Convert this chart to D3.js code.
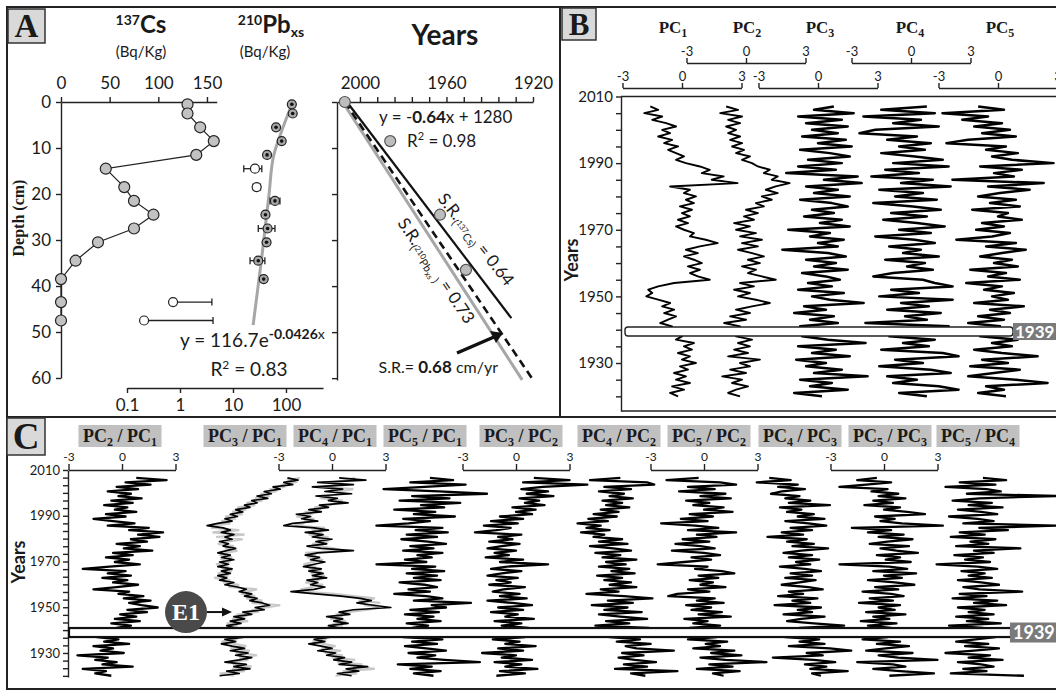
<!DOCTYPE html>
<html>
<head>
<meta charset="utf-8">
<script src="https://cdn.jsdelivr.net/npm/d3@7"></script>
<style>
  body { margin: 0; background: #fff; }
  svg { display: block; }
  text { font-family: Lato, "Open Sans", sans-serif; fill: #1a1a1a; }
  .serif { font-family: "Liberation Serif", "DejaVu Serif", serif; font-weight: bold; }
</style>
</head>
<body>
<svg id="fig" width="1056" height="691"></svg>
<script>
// ---------------------------------------------------------------------------
// Panel A data
// ---------------------------------------------------------------------------
const csDepth = [0.5, 2.5, 5.5, 8.5, 11.5, 14.5, 18.5, 21.5, 24.5, 27.5, 30.5, 34.5, 38.5, 43.5, 47.5];
const csActivity = [130, 130, 143, 157, 139, 46, 65, 75, 95, 75, 38, 15, 0, 0, 0];

const pbDepth = [0.5, 2.5, 5.5, 8.5, 11.5, 14.5, 18.5, 21.5, 24.5, 27.5, 30.5, 34.5, 38.5, 43.5, 47.5];
const pbActivity = [129, 134, 65, 83, 44, 26, 28, 62, 41, 45, 43, 30, 38, 0.74, 0.21];
const pbErrLow  = [118, 122, 59, 75, 40, 16, 24, 50, 37, 30, 39, 21, 35, 0.74, 0.21];
const pbErrHigh = [142, 147, 71, 91, 49, 35, 33, 77, 46, 62, 48, 40, 42, 4.0, 4.2];
const pbExcluded = [0, 0, 0, 0, 0, 1, 1, 0, 0, 0, 0, 0, 0, 1, 1];
const pbFitDepth = [0.5, 5.5, 11.5, 20, 33.7, 48.5];
const pbFitActivity = [130, 88, 59, 48, 35, 24];

const ageDepth = [0, 8.5, 24.5, 36.5];
const ageYear = [2007, 1986, 1963, 1951];

// sedimentation rate lines: [depth, year]
const srCs = [[0, 2006], [47, 1930]];
const srMean = [[0, 2007], [60.4, 1920]];
const srPb = [[0, 2008], [60.4, 1925]];

// ---------------------------------------------------------------------------
// Panel B / C data: one value per year, 2007 down to 1920
// ---------------------------------------------------------------------------
const years = d3.range(2007, 1919, -1);

const pc1 = [-1.6, -1.2, -1.9, -1.0, -1.5, -0.8, -0.3, -1.0,
  -0.6, -1.2, -0.5, -0.9, -0.2, -0.7, -0.3, 0.1, -0.3, 0.2,
  0.9, 1.4, 1.0, 2.1, 1.5, 2.8, -0.6, 0.4, 0.1, 0.7,
  0.2, 0.6, -0.1, 0.5, 0.0, 0.4, -0.2, 0.3, -0.3, 0.1,
  0.6, 0.4, 1.2, 1.8, 0.9, 0.2, 0.8, 0.1, 0.6, 1.0,
  0.3, 0.9, 0.4, 0.8, 1.4, -0.4, -1.2, -1.7, -1.5, -1.8,
  -1.2, -0.6, -1.0, -0.4, -0.9, -0.3, -0.7, -1.1, -0.5, -0.8,
  -0.4, 0.0, -0.3, 0.6, 0.1, 0.5, -0.2, 0.4, 0.0, 0.7,
  -0.1, 0.3, -0.4, 0.2, -0.3, 0.4, -0.5, 0.1, -0.6, -0.2];
const pc2 = [-1.0, -0.4, -1.3, -0.2, -0.9, -0.3, -1.0, -0.5,
  -0.9, -0.3, -0.8, -0.2, -0.7, -0.1, -0.5, 0.2, -0.2, 0.3,
  0.6, 1.2, 0.9, 1.6, 1.3, 2.2, 1.5, 1.0, 1.6, 0.8,
  1.3, 0.5, 0.9, 0.0, 0.6, -0.1, 0.4, -0.6, 0.2, -0.5,
  0.5, -0.3, 0.8, -0.2, 0.6, -0.4, 0.3, 0.9, 0.1, 0.7,
  -0.2, 0.5, 0.1, 0.8, 1.5, -0.3, 0.4, -0.6, 0.2, -0.4,
  0.5, 1.2, 0.3, -0.5, 0.2, -0.8, 0.0, -1.1, -0.3, -0.7,
  0.0, -0.5, 0.3, -0.4, 0.2, -0.6, 0.1, -0.9, 0.7, -0.3,
  0.2, -0.8, 0.0, -1.2, -0.2, -0.7, 0.1, -0.5, -0.9, -0.3];
const pc3 = [0.8, -0.2, 1.8, -1.0, 1.2, -0.6, 1.5, -0.3,
  1.0, -0.8, 1.4, 0.0, 1.7, -0.9, 0.6, 1.6, -0.5, 1.2,
  -1.0, 0.9, -1.6, 2.0, 0.3, 2.2, -0.6, 1.0, -0.2, 1.6,
  -0.9, 0.7, 1.5, -0.3, 0.8, -0.7, 1.2, 0.1, 1.6, -1.5,
  0.6, -0.4, 1.3, 0.0, 1.0, -1.8, 0.5, 1.4, -0.6, 0.9,
  -0.2, 1.5, -0.8, 0.4, 1.1, -0.5, 0.7, -1.0, 1.3, -0.3,
  0.6, 2.3, -0.7, 0.4, -1.2, 0.8, -0.4, 1.0, -0.9, 0.3,
  1.2, -0.8, 0.5, 2.4, -1.0, 0.9, -0.3, 1.6, -1.1, 0.4,
  -0.6, 1.2, -0.2, 2.5, -0.9, 0.7, -0.4, 1.5, -1.2, 0.2];
const pc4 = [0.8, -1.5, 1.2, -2.4, 0.5, -0.9, 1.4, -1.8,
  -2.6, 0.3, -1.2, 1.0, -0.6, 0.7, -1.5, 0.2, 1.6, -0.9,
  1.9, -1.3, 0.4, -2.0, 1.1, -0.5, 2.0, -1.6, 0.6, -0.8,
  1.3, -1.9, 0.1, 1.5, -1.0, 0.8, -1.4, 0.3, 1.7, -0.6,
  1.0, -1.8, 0.2, 1.2, -1.1, 0.5, -0.4, 1.4, -1.3, 0.7,
  -0.2, 1.1, -0.9, -1.9, 0.6, 1.2, 2.1, -1.0, 0.4, -1.6,
  2.1, -0.5, 0.9, -1.2, 1.5, -0.3, 0.8, -2.3, 1.9, -0.7,
  0.5, -1.1, 1.2, -0.4, 0.9, -1.5, 1.6, 2.4, -0.8, 0.6,
  -1.6, 1.0, 2.0, -1.2, 0.3, -0.9, 1.4, 2.4, -0.6, 0.8];
const pc5 = [-1.0, 0.3, -2.8, -0.5, -1.8, 0.2, -1.2, 0.6,
  -0.8, 0.9, -1.5, -2.6, 0.4, -0.6, 1.0, -0.3, 0.7, 2.8,
  -0.9, 1.2, -0.2, 0.8, -2.3, 2.3, -0.5, 1.6, 0.1, -1.0,
  0.9, -0.4, 1.1, -1.3, 0.5, 0.0, 1.2, -0.8, 0.3, -1.1,
  0.6, -0.3, -2.1, 0.9, -0.6, 1.4, 0.2, -0.9, 0.7, -0.2,
  1.0, -1.4, 0.4, -0.5, 1.1, -1.6, 0.2, -0.7, 0.8, -0.3,
  0.5, -1.2, 1.3, -0.4, 0.6, -1.0, 0.3, -1.5, 0.1, -0.6,
  0.4, -0.9, 1.0, -0.3, 0.7, -1.2, 0.2, 2.0, -0.8, 0.5,
  -1.4, 1.1, -0.2, -1.5, 0.9, 2.5, -0.6, 0.3, -1.0, 0.4];

// ratios, panel C
const pc2pc1 = [0.8, 2.5, 0.2, 1.6, -0.3, 0.9, -0.8, 0.5,
  -0.2, 1.1, -0.6, 0.6, -1.0, 0.3, -0.4, 0.8, -0.9, 0.2,
  -1.6, -0.5, 0.7, -0.8, 1.5, 0.4, 2.3, 0.9, 2.1, 0.5,
  1.4, -0.3, 1.0, 0.1, 1.7, -0.5, 0.6, -0.9, 0.4, -0.4,
  1.0, -0.7, -2.2, 0.2, -0.8, 0.5, -1.1, 0.3, -0.5, 0.9,
  -0.3, -1.6, 0.4, -0.2, 1.2, 0.1, 1.6, 0.4, 1.1, 2.0,
  0.3, 1.4, -0.1, 0.8, -0.4, 1.0, -0.6, 0.5, -0.3, 0.7,
  -0.5, 0.2, -1.4, -0.2, -1.0, 0.4, -1.6, -0.5, -1.2, 0.1,
  -2.5, -0.8, -1.5, -0.3, -1.1, 0.6, -2.2, -0.9, -1.5, -0.6];
const pc3pc1 = [2.6, 3.2, 2.4, 2.9, 1.8, 2.2, 1.3, 1.7,
  0.9, 1.5, 0.6, 0.9, 0.2, 0.5, -0.3, 0.1, -0.6, -0.2,
  -0.9, -0.5, -1.3, -1.9, -1.0, -0.6, -1.1, -0.4, -0.9, -0.5,
  -1.2, -0.7, -1.0, -0.3, -0.8, -1.3, -0.6, -1.1, -0.4, -1.2,
  -0.7, -1.3, -0.5, -1.1, -0.6, -1.3, -0.8, -1.2, -0.4, -0.9,
  -0.2, 0.3, -0.1, 0.6, 0.2, 0.9, 0.5, 1.2, 1.6, 0.8,
  1.3, 0.1, 0.6, -0.4, 0.2, -0.6, 0.0, -0.8, -0.3, -0.7,
  0.1, -0.5, 0.2, -0.9, -0.3, -1.1, -0.5, 0.2, -0.6, 0.4,
  -0.3, 0.6, -0.1, -0.9, 0.3, -0.4, 0.5, -0.8, -0.1, -1.2];
const pc3pc1Raw = [3.3, 2.7, 3.0, 2.3, 2.4, 1.7, 1.9, 1.1,
  1.6, 0.8, 1.2, 0.3, 0.8, -0.2, 0.3, -0.5, 0.1, -0.9,
  -0.3, -1.1, -0.6, -1.5, -1.6, -0.1, -1.6, 0.2, -1.4, 0.1,
  -0.7, -1.3, -0.4, -0.9, -0.2, -0.8, -1.1, -0.5, -1.0, -0.6,
  -1.4, -0.8, -1.0, -0.5, -1.3, -0.7, -1.5, -0.6, -1.0, -0.1,
  -0.7, 0.9, 0.3, 0.1, 0.8, 0.3, 1.2, 0.6, 2.2, 1.4,
  0.7, 0.9, -0.1, 0.2, -0.5, 0.4, -0.8, -0.2, -0.9, 0.3,
  -0.5, 0.2, -0.6, -0.2, -1.1, -0.4, 0.3, -0.6, 0.5, -0.3,
  0.9, -0.1, 0.4, -0.5, -0.4, 0.6, -0.5, 0.2, -1.2, -0.4];
const pc4pc1 = [0.4, 1.9, -0.8, 1.2, -1.1, 0.6, -0.4, 1.1,
  -0.9, 0.3, -0.2, 0.9, -0.7, -0.2, -1.3, -0.6, -2.0, -1.2,
  -1.7, -0.8, -2.2, -2.7, -1.0, -0.2, -1.5, -0.5, -1.1, 0.0,
  -0.9, -0.3, -1.4, -0.6, 1.2, -0.8, -1.5, -0.7, -1.2, -0.4,
  -1.0, -1.6, -0.6, -1.3, -0.5, -1.1, -0.3, -1.4, -0.8, -1.2,
  -0.4, -1.0, -2.3, -0.9, 0.5, 1.6, 2.2, 1.4, 2.3, 3.3,
  1.2, 0.4, 1.0, -0.3, 0.6, 0.1, 0.9, -0.2, 0.4, -0.1,
  0.3, -0.6, -0.1, -1.0, -0.4, -1.3, -0.6, 0.0, -0.8, 0.2,
  -0.3, 0.7, 0.1, 1.1, 0.4, 2.0, 0.8, 1.5, 0.3, 1.1];
const pc4pc1Raw = [1.3, 0.8, 0.0, 0.4, -0.5, 1.2, 0.3, 0.4,
  -0.2, -0.5, 0.6, 0.2, -0.1, -1.0, -0.6, -1.4, -1.2, -2.0,
  -1.0, -1.5, -1.6, -2.1, -0.4, -1.0, -0.7, -1.3, -0.2, -0.8,
  -0.2, -1.1, -0.7, 0.1, 0.6, -1.5, -0.9, -1.4, -0.5, -1.1,
  -1.6, -0.9, -1.3, -0.6, -1.2, -0.4, -1.0, -0.8, -1.5, -0.5,
  -1.1, -1.7, -1.6, 0.1, 1.2, 2.4, 1.5, 2.7, 1.8, 2.6,
  2.0, 0.9, 0.3, 0.5, -0.1, 0.8, 0.2, 0.6, -0.4, 0.5,
  -0.3, 0.1, -0.8, -0.3, -1.1, -0.5, 0.2, -0.6, 0.5, -0.4,
  0.6, 0.0, 1.3, 0.3, 1.7, 1.2, 2.4, 0.6, 1.4, 0.2];
const pc5pc1 = [0.5, 1.8, -0.6, 2.5, 0.2, -2.1, 1.0, 3.7,
  -0.5, 1.6, -1.2, 2.2, 0.0, 1.3, -1.5, 0.8, -0.4, 1.9,
  -1.0, 0.5, -0.7, -2.5, 1.2, -0.3, 1.5, -0.8, 0.9, -1.1,
  0.4, 1.4, -0.6, 0.7, -1.0, 1.2, -0.2, 0.6, -0.9, 0.3,
  -2.5, 0.8, -0.5, 1.3, -0.8, 0.9, -0.4, 1.1, -1.2, 0.2,
  0.9, -0.7, 0.5, -1.5, 0.3, 1.2, -0.4, 2.8, 0.6, 1.4,
  -0.6, 1.0, -0.9, 0.7, -0.2, 1.1, -0.8, 0.4, -0.5, 0.8,
  -0.3, 0.6, -1.0, 1.2, -0.5, 0.9, -0.9, 0.3, 1.4, -0.7,
  0.8, -0.2, 1.3, 3.3, -1.3, 0.6, -0.6, 1.1, -0.4, 0.7];
const pc3pc2 = [1.0, 3.0, 0.4, 4.0, 1.5, 0.3, 1.8, 0.6,
  2.1, 0.2, 1.3, 0.5, 1.6, -0.2, 1.1, 0.0, 0.9, -0.9,
  0.4, -1.4, 0.1, -1.8, -0.3, -1.1, -2.3, 0.3, -1.0, -0.2,
  -1.5, 0.2, -0.8, -1.6, 0.0, -1.2, -0.4, -1.7, 0.4, -0.9,
  1.8, -0.5, -1.4, 0.3, -0.8, -1.6, 0.1, -1.1, -0.3, -1.5,
  0.5, -0.7, -1.3, 0.2, -0.9, 0.6, -1.6, -0.2, 0.9, -1.0,
  0.4, -1.4, 0.1, -0.6, 1.0, -1.2, 0.3, -0.8, 0.7, -0.5,
  0.4, -0.9, 0.5, -1.3, 0.2, -0.6, 1.1, -1.0, 0.4, -1.9,
  0.0, -0.8, 0.9, -1.2, 0.3, -0.6, 1.2, -0.9, 0.5, -1.1];
const pc4pc2 = [0.3, -1.4, 1.8, 2.2, -0.6, 0.9, -0.9, 0.5,
  -0.3, 1.0, -0.7, 0.4, -0.5, 0.8, -0.8, 0.2, -1.2, 0.1,
  -1.5, -0.4, -2.1, -0.8, -1.6, -0.3, -1.9, -0.6, -1.2, 0.4,
  -0.9, 0.7, -1.4, -0.1, 0.9, -1.1, 0.3, -0.7, 1.2, -0.5,
  0.6, -0.9, 0.8, -0.2, 1.1, -1.0, 0.4, -0.6, 0.9, -0.3,
  1.2, -0.8, 0.2, -1.6, 0.5, 2.1, -0.4, 1.0, -1.3, 0.7,
  -0.6, 1.5, -0.9, 0.3, 1.8, -0.5, 0.8, -1.1, 1.9, 0.2,
  -0.4, 0.9, -0.3, 1.4, 0.1, 2.0, 0.6, 1.2, 3.3, 0.4,
  1.6, 0.2, 1.1, 2.3, 0.5, 1.8, 0.0, 3.5, 0.9, 1.7];
const pc5pc2 = [-0.3, -2.1, 0.9, 1.8, -0.9, 0.6, -1.4, 1.2,
  -0.2, 1.5, -1.0, 0.3, -0.6, 1.1, 0.0, 1.6, -0.8, 0.5,
  -1.3, 0.2, -2.4, -0.5, 0.8, -0.9, 1.8, -0.4, 0.7, -1.2,
  0.3, -1.6, -0.2, 0.6, -1.8, 0.0, 0.9, -0.7, 0.4, -1.1,
  -2.6, 0.2, -0.5, 1.0, 1.7, -0.3, 0.8, -0.8, 0.5, -0.2,
  1.2, -0.9, 0.3, -1.5, -2.0, 0.6, -0.4, 1.1, -1.0, 0.4,
  -0.7, 1.0, -0.3, 1.5, -1.1, 0.2, -0.6, 0.9, -0.8, 0.3,
  1.1, -0.4, 0.7, -0.9, 1.3, 0.1, 0.9, -0.6, 1.7, 0.4,
  2.1, -0.2, 1.2, 3.5, 0.3, 1.6, -0.4, 2.0, 0.5, 1.1];
const pc4pc3 = [-1.5, -0.3, -2.2, 0.1, -1.0, 0.5, -0.8, -1.4,
  0.2, -0.6, 0.8, -0.4, 1.9, -0.9, 0.3, -0.5, 1.0, 0.1,
  1.6, -0.6, 0.7, 1.7, -0.3, 0.9, -0.8, 0.4, -1.6, 0.6,
  -0.5, 1.0, -0.2, 1.8, 0.3, -0.7, 0.9, -0.4, 1.3, 0.0,
  0.8, -0.9, 0.5, 1.4, -0.3, 0.9, -0.6, 1.1, 0.2, -0.8,
  0.7, 1.5, -0.4, 0.4, -1.0, 1.2, -0.2, 0.8, -1.2, 1.4,
  0.1, 0.9, -0.7, 1.6, 0.3, -0.5, 1.0, 2.7, 0.2, 1.1,
  -0.3, 0.8, -0.6, 1.3, 0.2, 1.6, -0.4, 1.9, 3.1, 0.6,
  1.5, -1.3, 1.0, 2.2, 0.5, 1.7, 0.8, 2.9, 0.9, 1.4];
const pc5pc3 = [-0.4, -1.5, 0.4, -1.0, -2.5, 0.2, -0.7, 0.8,
  -0.3, 1.2, -0.6, 0.5, -1.1, 0.9, 0.0, 1.3, 2.3, -0.5,
  0.6, -0.2, 1.0, 3.3, -1.8, 0.4, -0.9, 1.1, -0.3, 1.6,
  0.2, -0.8, 1.4, -0.2, 0.7, 1.9, -0.4, 0.9, 0.1, 1.5,
  -2.5, 0.3, 1.3, -0.6, 1.8, 0.0, 1.0, -0.9, 0.6, 1.7,
  -0.5, 0.8, -1.2, 0.4, 1.1, -0.8, 0.5, -1.4, 0.9, -0.3,
  0.6, -1.0, 1.2, -0.6, 0.3, -1.3, 0.7, -0.9, 0.4, -0.5,
  1.0, -0.7, 0.2, -1.2, 0.9, -0.4, 1.4, 0.1, -1.0, 1.6,
  -0.3, 0.8, 3.0, -1.5, 0.5, 1.2, -0.6, 0.9, 2.8, 0.3];
const pc5pc4 = [0.5, 1.8, -0.8, 1.2, -1.6, 0.7, 1.5, -0.4,
  4.6, 0.3, -1.2, 1.0, -0.3, 1.6, -0.9, 0.4, 1.3, -1.4,
  0.2, 1.1, -0.6, 4.6, 0.3, 1.9, -0.8, 0.6, -1.3, 1.2,
  -0.2, 0.8, -1.0, 2.6, 0.0, 1.1, -1.1, 0.5, -0.5, 0.9,
  -2.1, 0.2, 1.3, -0.7, 0.6, -0.3, 1.0, -0.9, 0.4, 1.4,
  -0.6, 0.3, 2.7, -0.8, 0.7, -1.2, 1.3, 0.0, 1.8, -0.9,
  0.6, -0.3, 1.1, -1.0, 0.8, -0.4, 1.5, -1.4, 0.5, -0.2,
  0.9, -0.7, 1.2, 0.1, -1.0, 0.8, -0.5, 1.4, 0.0, -1.6,
  0.9, -0.3, 1.6, -0.9, 0.4, 1.1, -0.6, 0.7, -1.3, 2.8];

const pcNames = ['1', '2', '3', '4', '5'];
const ratioNames = [['2', '1'], ['3', '1'], ['4', '1'], ['5', '1'], ['3', '2'],
                    ['4', '2'], ['5', '2'], ['4', '3'], ['5', '3'], ['5', '4']];
const markerYear = 1939;

// ---------------------------------------------------------------------------
const svg = d3.select('#fig');

function styleAxis(g, fs) {
    g.attr('font-family', null).attr('font-size', null);
    g.selectAll('path, line').attr('stroke', '#222').attr('stroke-width', 1.4);
    g.selectAll('text').attr('font-size', fs).style('fill', '#1a1a1a');
}
const plain = d => d;

// frame
svg.append('rect').attr('x', 7).attr('y', 7).attr('width', 1060).attr('height', 682)
    .attr('fill', 'none').attr('stroke', '#222').attr('stroke-width', 2);
svg.append('line').attr('x1', 560).attr('x2', 560).attr('y1', 7).attr('y2', 417)
    .attr('stroke', '#222').attr('stroke-width', 2);
svg.append('line').attr('x1', 7).attr('x2', 1056).attr('y1', 417).attr('y2', 417)
    .attr('stroke', '#222').attr('stroke-width', 2);

function panelLabel(x, y, w, h, txt, fs) {
    svg.append('rect').attr('x', x).attr('y', y).attr('width', w).attr('height', h)
        .attr('fill', '#d9d9d9').attr('stroke', '#333').attr('stroke-width', 1.5);
    svg.append('text').attr('class', 'serif').attr('x', x + w / 2).attr('y', y + h * 0.83)
        .attr('text-anchor', 'middle').attr('font-size', fs).text(txt);
}
panelLabel(8, 9, 37, 34, 'A', 33);
panelLabel(562, 8, 34, 32, 'B', 31);
panelLabel(7, 418, 38, 37, 'C', 37);

// ---------------------------------------------------------------------------
// Panel A
// ---------------------------------------------------------------------------
const yDepth = d3.scaleLinear().domain([0, 60]).range([102, 378]);
const xCs = d3.scaleLinear().domain([0, 160]).range([61, 216.7]);
const xPb = d3.scaleLog().domain([0.1, 500]).range([127, 323]);
const xYr = d3.scaleLinear().domain([2010.6, 1920]).range([337, 533]);

// headers
let t = svg.append('text').attr('x', 141).attr('y', 33).attr('text-anchor', 'middle').attr('font-weight', 'bold');
t.append('tspan').attr('font-size', 14).attr('dy', -8).text('137');
t.append('tspan').attr('font-size', 24).attr('dy', 8).text('Cs');
svg.append('text').attr('x', 141).attr('y', 57).attr('text-anchor', 'middle').attr('font-size', 15).text('(Bq/Kg)');
t = svg.append('text').attr('x', 271).attr('y', 33).attr('text-anchor', 'middle').attr('font-weight', 'bold');
t.append('tspan').attr('font-size', 14).attr('dy', -8).text('210');
t.append('tspan').attr('font-size', 24).attr('dy', 8).text('Pb');
t.append('tspan').attr('font-size', 14).attr('dy', 4).text('xs');
svg.append('text').attr('x', 265).attr('y', 57).attr('text-anchor', 'middle').attr('font-size', 15).text('(Bq/Kg)');
svg.append('text').attr('x', 445).attr('y', 45).attr('text-anchor', 'middle').attr('font-size', 28)
    .attr('font-weight', 'bold').text('Years');

// Cs axes
svg.append('g').attr('transform', 'translate(0,102)')
    .call(d3.axisTop(xCs).tickValues([0, 50, 100, 150]).tickSize(5).tickSizeOuter(0).tickPadding(8))
    .call(g => styleAxis(g, 17));
svg.append('g').attr('transform', 'translate(61,0)')
    .call(d3.axisLeft(yDepth).tickValues(d3.range(0, 61, 10)).tickSize(5).tickSizeOuter(0).tickPadding(5))
    .call(g => styleAxis(g, 17));
svg.append('text').attr('class', 'serif').attr('transform', 'translate(24,218) rotate(-90)')
    .attr('text-anchor', 'middle').attr('font-size', 16).text('Depth (cm)');

// Cs profile
svg.append('path').datum(csDepth)
    .attr('fill', 'none').attr('stroke', '#222').attr('stroke-width', 1.2)
    .attr('d', d3.line().x((d, i) => xCs(csActivity[i])).y(d => yDepth(d)));
svg.append('g').selectAll('circle').data(csDepth).join('circle')
    .attr('cx', (d, i) => xCs(csActivity[i])).attr('cy', d => yDepth(d)).attr('r', 5.5)
    .attr('fill', '#c2c2c2').attr('stroke', '#222').attr('stroke-width', 1.2);

// Pb axis
svg.append('g').attr('transform', 'translate(0,388)')
    .call(d3.axisBottom(xPb).tickValues([0.1, 1, 10, 100]).tickFormat(plain).tickSize(5).tickSizeOuter(0).tickPadding(6))
    .call(g => styleAxis(g, 17));

// Pb fit
svg.append('path').datum(pbFitDepth)
    .attr('fill', 'none').attr('stroke', '#a6a6a6').attr('stroke-width', 3)
    .attr('d', d3.line().curve(d3.curveMonotoneY).x((d, i) => xPb(pbFitActivity[i])).y(d => yDepth(d)));

// Pb error bars and points
const pbG = svg.append('g');
pbDepth.forEach((d, i) => {
    const y = yDepth(d);
    const lo = pbExcluded[i] && pbActivity[i] < 1 ? pbActivity[i] : pbErrLow[i];
    pbG.append('line').attr('x1', xPb(lo)).attr('x2', xPb(pbErrHigh[i])).attr('y1', y).attr('y2', y)
        .attr('stroke', '#222').attr('stroke-width', 1.3);
    [lo, pbErrHigh[i]].forEach(v => {
        if (v === pbActivity[i]) return;
        pbG.append('line').attr('x1', xPb(v)).attr('x2', xPb(v)).attr('y1', y - 3.5).attr('y2', y + 3.5)
            .attr('stroke', '#222').attr('stroke-width', 1.3);
    });
    pbG.append('circle').attr('cx', xPb(pbActivity[i])).attr('cy', y).attr('r', 4.5)
        .attr('fill', pbExcluded[i] ? '#fff' : '#a8a8a8').attr('stroke', '#222').attr('stroke-width', 1.2);
    if (!pbExcluded[i]) {
        pbG.append('circle').attr('cx', xPb(pbActivity[i])).attr('cy', y).attr('r', 1.8).attr('fill', '#111');
    }
});

t = svg.append('text').attr('x', 180).attr('y', 347).attr('font-size', 19);
t.append('tspan').text('y = 116.7e');
t.append('tspan').attr('dy', -8).attr('font-size', 14).attr('font-weight', 'bold').text('-0.0426');
t.append('tspan').attr('font-size', 14).text('x');
t = svg.append('text').attr('x', 249).attr('y', 376).attr('text-anchor', 'middle').attr('font-size', 19);
t.append('tspan').text('R');
t.append('tspan').attr('dy', -7).attr('font-size', 12).text('2');
t.append('tspan').attr('dy', 7).text(' = 0.83');

// Age-depth axes
svg.append('g').attr('transform', 'translate(0,102)')
    .call(d3.axisTop(xYr).tickValues(d3.range(2000, 1919, -8)).tickSize(5).tickSizeOuter(0).tickPadding(8)
        .tickFormat(d => (d % 40 === 0 ? d : '')))
    .call(g => styleAxis(g, 17));
svg.append('g').attr('transform', 'translate(337,0)')
    .call(d3.axisLeft(yDepth.copy().domain([0, 60.4]).range([102, 380])).tickValues(d3.range(0, 61, 10))
        .tickSize(5).tickSizeOuter(0).tickFormat(''))
    .call(g => styleAxis(g, 17));

const srLine = d3.line().x(d => xYr(d[1])).y(d => yDepth(d[0]));
svg.append('path').datum(srPb).attr('d', srLine).attr('stroke', '#a6a6a6').attr('stroke-width', 3).attr('fill', 'none');
svg.append('path').datum(srMean).attr('d', srLine).attr('stroke', '#111').attr('stroke-width', 2.6)
    .attr('stroke-dasharray', '8,5').attr('fill', 'none');
svg.append('path').datum(srCs).attr('d', srLine).attr('stroke', '#111').attr('stroke-width', 2.2).attr('fill', 'none');
svg.append('g').selectAll('circle').data(ageDepth).join('circle')
    .attr('cx', (d, i) => xYr(ageYear[i])).attr('cy', d => yDepth(d)).attr('r', 5.5)
    .attr('fill', '#bdbdbd').attr('stroke', '#555').attr('stroke-width', 1.2);

t = svg.append('text').attr('x', 379).attr('y', 123).attr('font-size', 17);
t.append('tspan').text('y = -');
t.append('tspan').attr('font-weight', 'bold').text('0.64');
t.append('tspan').text('x + 1280');
t = svg.append('text').attr('x', 407).attr('y', 147).attr('font-size', 17);
t.append('tspan').text('R');
t.append('tspan').attr('dy', -7).attr('font-size', 11).text('2');
t.append('tspan').attr('dy', 7).text(' = 0.98');

t = svg.append('text').attr('transform', 'translate(437,199) rotate(52)').attr('font-size', 17);
t.append('tspan').text('S.R.');
t.append('tspan').attr('dy', 4).attr('font-size', 11).text('(');
t.append('tspan').attr('dy', -4).attr('font-size', 8).text('137');
t.append('tspan').attr('dy', 4).attr('font-size', 11).text('Cs)');
t.append('tspan').attr('dy', -4).text(' = 0.64');

t = svg.append('text').attr('transform', 'translate(397,223) rotate(56)').attr('font-size', 17);
t.append('tspan').text('S.R.');
t.append('tspan').attr('dy', 4).attr('font-size', 11).text('(');
t.append('tspan').attr('dy', -4).attr('font-size', 8).text('210');
t.append('tspan').attr('dy', 4).attr('font-size', 11).text('Pb');
t.append('tspan').attr('dy', 2).attr('font-size', 8).text('xs');
t.append('tspan').attr('dy', -2).attr('font-size', 11).text(' )');
t.append('tspan').attr('dy', -4).text(' = 0.73');

svg.append('path').attr('d', 'M457,353 L494,337').attr('stroke', '#111').attr('stroke-width', 3.5);
svg.append('path').attr('d', 'M503,333 L490,331 L496,343 Z').attr('fill', '#111');
t = svg.append('text').attr('x', 498).attr('y', 373).attr('text-anchor', 'end').attr('font-size', 16);
t.append('tspan').text('S.R.= ');
t.append('tspan').attr('font-weight', 'bold').attr('font-size', 17).text('0.68');
t.append('tspan').text(' cm/yr');

// ---------------------------------------------------------------------------
// Panel B
// ---------------------------------------------------------------------------
const yB = d3.scaleLinear().domain([2010, 1930]).range([96.5, 363]);
const pcSeries = [pc1, pc2, pc3, pc4, pc5];
const pcZero = [682, 746, 818, 911, 998];
const pcAxisRow = [88, 63, 88, 63, 88];
const pcScale = pcZero.map(z => d3.scaleLinear().domain([-3, 3]).range([z - 59.5, z + 59.5]));

svg.append('line').attr('x1', 621).attr('x2', 1056).attr('y1', 96.5).attr('y2', 96.5).attr('stroke', '#222').attr('stroke-width', 1.6);
svg.append('line').attr('x1', 621).attr('x2', 1056).attr('y1', 411).attr('y2', 411).attr('stroke', '#222').attr('stroke-width', 1.6);
svg.append('g').attr('transform', 'translate(621,0)')
    .call(d3.axisLeft(yB.copy().domain([2010, 1915.6]).range([96.5, 411])).tickValues(d3.range(2010, 1919, -5))
        .tickSize(5).tickSizeOuter(0).tickPadding(3).tickFormat(d => (d % 20 === 10 ? d : '')))
    .call(g => styleAxis(g, 15));
svg.append('text').attr('transform', 'translate(578,260) rotate(-90)').attr('text-anchor', 'middle')
    .attr('font-size', 18).attr('font-weight', 'bold').text('Years');

pcSeries.forEach((s, k) => {
    svg.append('g').attr('transform', `translate(0,${pcAxisRow[k]})`)
        .call(d3.axisTop(pcScale[k]).tickValues([-3, 0, 3]).tickFormat(plain).tickSize(5).tickSizeOuter(0).tickPadding(2))
        .call(g => styleAxis(g, 13));
    svg.append('path').datum(s).attr('fill', 'none').attr('stroke', '#000').attr('stroke-width', k < 2 ? 1.9 : 2.5)
        .attr('stroke-linejoin', 'round')
        .attr('d', d3.line().x(v => pcScale[k](v)).y((v, i) => yB(years[i])));
});
const pcLabelX = [673, 747, 820, 910, 1000];
pcNames.forEach((n, k) => {
    const tt = svg.append('text').attr('class', 'serif').attr('x', pcLabelX[k]).attr('y', 33)
        .attr('text-anchor', 'middle').attr('font-size', 17);
    tt.append('tspan').text('PC');
    tt.append('tspan').attr('dy', 4).attr('font-size', 12).text(n);
});

// 1939 marker B
const yMB = yB(markerYear) - 1.5;
svg.append('rect').attr('x', 625).attr('y', yMB - 4.5).attr('width', 388).attr('height', 9).attr('rx', 3)
    .attr('fill', '#fff').attr('stroke', '#222').attr('stroke-width', 1.4);
svg.append('rect').attr('x', 1013).attr('y', yMB - 8.5).attr('width', 43).attr('height', 17).attr('fill', '#7a7a7a');
svg.append('text').attr('x', 1015).attr('y', yMB + 6).attr('font-size', 17).attr('font-weight', 'bold')
    .style('fill', '#fff').text(markerYear);

// ---------------------------------------------------------------------------
// Panel C
// ---------------------------------------------------------------------------
const yC = d3.scaleLinear().domain([2010, 1930]).range([471, 653]);
const ratioSeries = [pc2pc1, pc3pc1, pc4pc1, pc5pc1, pc3pc2, pc4pc2, pc5pc2, pc4pc3, pc5pc3, pc5pc4];
const ratioRaw = {1: pc3pc1Raw, 2: pc4pc1Raw};
const ratioZero = [122, 241, 332, 421, 516, 615, 704, 796, 884, 974];
const ratioHasAxis = [1, 0, 1, 0, 1, 0, 1, 0, 1, 0];
const headerX = [120, 245, 335, 425, 521, 619, 709, 800, 890, 978];
const ratioScale = ratioZero.map(z => d3.scaleLinear().domain([-3, 3]).range([z - 53.5, z + 53.5]));

svg.append('g').attr('transform', 'translate(68,0)')
    .call(d3.axisLeft(yC.copy().domain([2010, 1919.5]).range([470, 677]))
        .tickValues(d3.range(0, 28).map(i => 2010 - i * 10 / 3))
        .tickSize(5).tickSizeOuter(0).tickPadding(3)
        .tickFormat((d, i) => (i % 6 === 0 ? Math.round(d) : '')))
    .call(g => styleAxis(g, 13));
svg.append('text').attr('transform', 'translate(25,562) rotate(-90)').attr('text-anchor', 'middle')
    .attr('font-size', 18).attr('font-weight', 'bold').text('Years');

ratioSeries.forEach((s, k) => {
    if (ratioHasAxis[k]) {
        svg.append('g').attr('transform', 'translate(0,470)')
            .call(d3.axisTop(ratioScale[k]).tickValues([-3, 0, 3]).tickFormat(plain).tickSize(6).tickSizeOuter(0).tickPadding(3))
            .call(g => styleAxis(g, 12));
    }
    const line = d3.line().x(v => ratioScale[k](v)).y((v, i) => yC(years[i]));
    if (ratioRaw[k]) {
        svg.append('path').datum(ratioRaw[k]).attr('fill', 'none').attr('stroke', '#c8c8c8')
            .attr('stroke-width', 2.2).attr('d', line);
    }
    svg.append('path').datum(s).attr('fill', 'none').attr('stroke', '#000')
        .attr('stroke-width', ratioRaw[k] ? 1.7 : 2.3).attr('stroke-linejoin', 'round').attr('d', line);

    // header box
    svg.append('rect').attr('x', headerX[k] - 41.5).attr('y', 425).attr('width', 83).attr('height', 22).attr('fill', '#c0c0c0');
    const tt = svg.append('text').attr('class', 'serif').attr('x', headerX[k]).attr('y', 442)
        .attr('text-anchor', 'middle').attr('font-size', 18);
    tt.append('tspan').text('PC');
    tt.append('tspan').attr('dy', 4).attr('font-size', 12).text(ratioNames[k][0]);
    tt.append('tspan').attr('dy', -4).text(' / PC');
    tt.append('tspan').attr('dy', 4).attr('font-size', 12).text(ratioNames[k][1]);
});

// 1939 marker C
const yMC = yC(markerYear);
svg.append('rect').attr('x', 69).attr('y', yMC - 4.5).attr('width', 942).attr('height', 9)
    .attr('fill', '#fff').attr('stroke', '#111').attr('stroke-width', 2.2);
svg.append('rect').attr('x', 1010).attr('y', yMC - 10).attr('width', 46).attr('height', 20).attr('fill', '#7a7a7a');
svg.append('text').attr('x', 1013).attr('y', yMC + 6.5).attr('font-size', 18).attr('font-weight', 'bold')
    .style('fill', '#fff').text(markerYear);

// E1 event
const yE1 = yC(1948);
svg.append('circle').attr('cx', 186).attr('cy', yE1).attr('r', 21).attr('fill', '#4a4a4a');
svg.append('text').attr('class', 'serif').attr('x', 186).attr('y', yE1 + 8).attr('text-anchor', 'middle')
    .attr('font-size', 24).style('fill', '#fff').text('E1');
svg.append('line').attr('x1', 207).attr('x2', 224).attr('y1', yE1).attr('y2', yE1).attr('stroke', '#111').attr('stroke-width', 2);
svg.append('path').attr('d', `M232,${yE1} L222,${yE1 - 4.5} L222,${yE1 + 4.5} Z`).attr('fill', '#111');
</script>
</body>
</html>
